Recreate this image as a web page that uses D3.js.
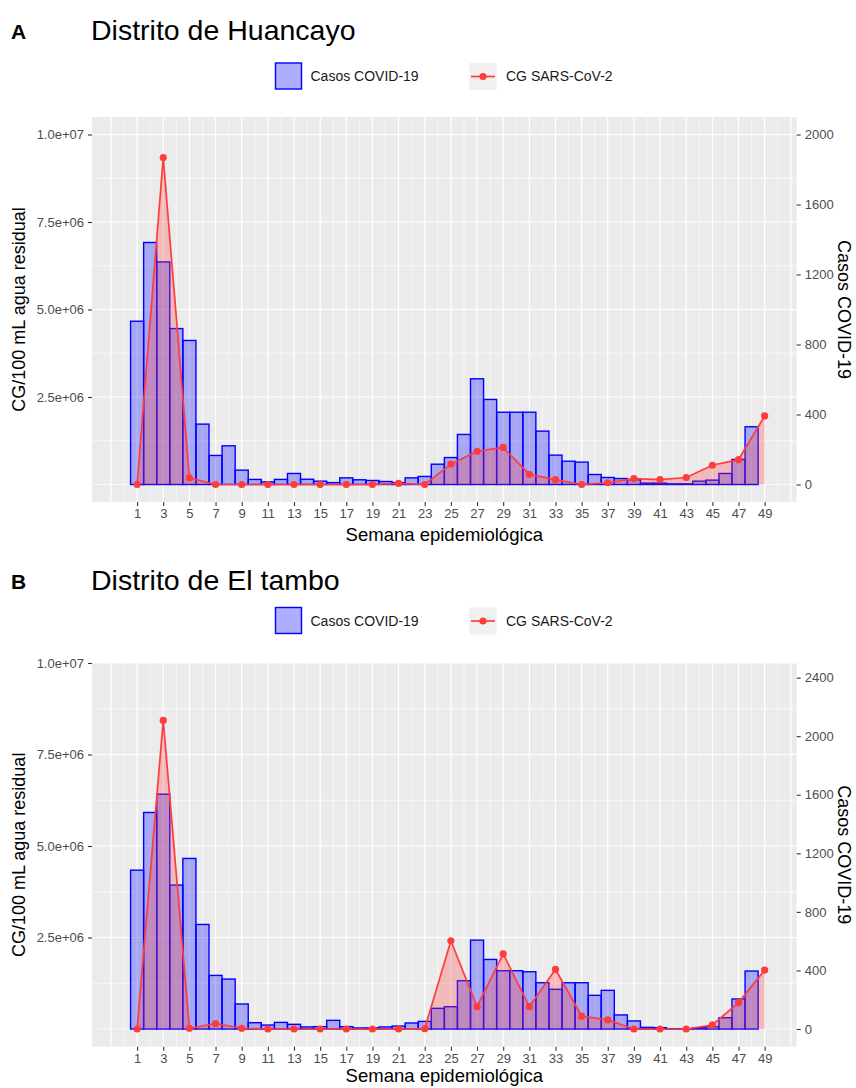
<!DOCTYPE html>
<html>
<head>
<meta charset="utf-8">
<script src="https://cdn.jsdelivr.net/npm/d3@7"></script>
<style>
  html, body { margin: 0; padding: 0; background: #ffffff; }
  svg text { font-family: "Liberation Sans", Arial, Helvetica, sans-serif; }
</style>
</head>
<body>
<svg id="chart" width="856" height="1088"></svg>
<script>
// ---------- DATA ----------
const barWeeks = d3.range(1, 49);          // weeks 1..48 (bars)
const pointWeeks = d3.range(1, 50, 2);     // weeks 1,3,...,49 (CG points)
const xTickLabels = d3.range(1, 50, 2);

// Panel A – Distrito de Huancayo
const casesA = [933,1383,1272,891,823,345,166,221,82,29,
                15,29,63,30,19,11,38,27,23,17,
                11,38,46,116,154,286,604,486,413,413,
                413,305,168,133,128,57,40,34,27,8,
                8,4,4,19,25,63,143,330];
const cgA = [0,9.34e6,0.19e6,0,0,0,0,0,0,0,
             0.03e6,0,0.58e6,0.95e6,1.06e6,0.29e6,0.14e6,0,0.05e6,0.17e6,
             0.14e6,0.2e6,0.55e6,0.71e6,1.96e6];
const leftTicksA = [2.5e6, 5e6, 7.5e6, 1e7];
const rightTicksA = [0, 400, 800, 1200, 1600, 2000];

// Panel B – Distrito de El tambo
const casesB = [1085,1479,1604,983,1165,714,366,341,171,43,
                27,45,32,14,16,59,16,7,7,14,
                20,41,52,141,152,330,607,475,398,398,
                391,316,271,316,316,230,264,96,55,11,
                9,2,2,9,16,77,205,396];
const cgB = [0,8.43e6,0.02e6,0.15e6,0.02e6,0,0,0,0,0,
             0,0.01e6,2.41e6,0.61e6,2.05e6,0.61e6,1.63e6,0.35e6,0.25e6,0,
             0,0,0.11e6,0.72e6,1.61e6];
const leftTicksB = [2.5e6, 5e6, 7.5e6, 1e7];
const rightTicksB = [0, 400, 800, 1200, 1600, 2000, 2400];

const tags = ["A", "B"];
const titles = ["Distrito de Huancayo", "Distrito de El tambo"];
const legendLabels = ["Casos COVID-19", "CG SARS-CoV-2"];
const xTitle = "Semana epidemiológica";
const yLeftTitle = "CG/100 mL agua residual";
const yRightTitle = "Casos COVID-19";

// ---------- STYLE ----------
const PANEL_BG = "#ebebeb";
const BAR_FILL = "rgba(30,30,255,0.33)";
const BAR_STROKE = "#0000ff";
const RED = "#ff3c3c";
const AREA_FILL = "rgba(255,60,60,0.28)";
const TICK_COL = "#4d4d4d";

const svg = d3.select("#chart");

function sci(d) {
  const s = d3.format(".1e")(d);
  return s.replace(/e([+-])(\d)$/, "e$10$2");
}

function drawPanel(cfg) {
  const { top, bottom, yDomain, ratio, cases, cg, leftTicks, rightTicks,
          tag, title, titleBase, legendY, xTitleBase } = cfg;
  const L = 92, R = 796.7;
  const g = svg.append("g");

  const x = d3.scaleLinear().domain([-2.45, 51.45]).range([L, R]);
  const y = d3.scaleLinear().domain(yDomain).range([bottom, top]);
  const y2 = d3.scaleLinear().domain(yDomain.map(v => v / ratio)).range([bottom, top]);

  // tag + title
  g.append("text").attr("x", 11).attr("y", titleBase - 1)
    .attr("font-size", 21).attr("font-weight", "bold").attr("fill", "#000").text(tag);
  g.append("text").attr("x", 91).attr("y", titleBase)
    .attr("font-size", 28.5).attr("fill", "#000").text(title);

  // legend
  const lg = g.append("g");
  lg.append("rect").attr("x", 275.5).attr("y", legendY).attr("width", 26).attr("height", 26)
    .attr("fill", "rgba(30,30,255,0.36)").attr("stroke", BAR_STROKE).attr("stroke-width", 1.4);
  lg.append("text").attr("x", 310.5).attr("y", legendY + 18).attr("font-size", 14)
    .attr("fill", "#1a1a1a").text(legendLabels[0]);
  lg.append("rect").attr("x", 469.5).attr("y", legendY).attr("width", 27).attr("height", 27)
    .attr("fill", "#f0f0f0");
  lg.append("line").attr("x1", 471).attr("x2", 495).attr("y1", legendY + 13.5).attr("y2", legendY + 13.5)
    .attr("stroke", RED).attr("stroke-width", 1.7);
  lg.append("circle").attr("cx", 483).attr("cy", legendY + 13.5).attr("r", 3.6).attr("fill", RED);
  lg.append("text").attr("x", 506).attr("y", legendY + 18).attr("font-size", 14)
    .attr("fill", "#1a1a1a").text(legendLabels[1]);

  // panel background
  g.append("rect").attr("x", L).attr("y", top).attr("width", R - L).attr("height", bottom - top)
    .attr("fill", PANEL_BG);

  // grid
  const grid = g.append("g");
  const yMinor = [0, 1.25e6, 3.75e6, 6.25e6, 8.75e6];
  yMinor.forEach(v => {
    grid.append("line").attr("x1", L).attr("x2", R).attr("y1", y(v)).attr("y2", y(v))
      .attr("stroke", "#fff").attr("stroke-width", 0.6);
  });
  leftTicks.forEach(v => {
    grid.append("line").attr("x1", L).attr("x2", R).attr("y1", y(v)).attr("y2", y(v))
      .attr("stroke", "#fff").attr("stroke-width", 1.2);
  });
  d3.range(0, 51, 2).forEach(v => {
    grid.append("line").attr("x1", x(v)).attr("x2", x(v)).attr("y1", top).attr("y2", bottom)
      .attr("stroke", "#fff").attr("stroke-width", 0.6);
  });
  d3.range(-1, 52, 2).forEach(v => {
    grid.append("line").attr("x1", x(v)).attr("x2", x(v)).attr("y1", top).attr("y2", bottom)
      .attr("stroke", "#fff").attr("stroke-width", 1.2);
  });

  // bars
  const bw = x(1) - x(0);
  g.append("g").selectAll("rect").data(barWeeks).join("rect")
    .attr("x", (d) => x(d) - bw / 2)
    .attr("width", bw)
    .attr("y", (d, i) => y(cases[i] * ratio))
    .attr("height", (d, i) => y(0) - y(cases[i] * ratio))
    .attr("fill", BAR_FILL)
    .attr("stroke", BAR_STROKE)
    .attr("stroke-width", 1.4);

  // area + line + points
  const pts = pointWeeks.map((w, i) => ({ w, v: cg[i] }));
  g.append("path").datum(pts)
    .attr("d", d3.area().x(d => x(d.w)).y0(y(0)).y1(d => y(d.v)))
    .attr("fill", AREA_FILL);
  g.append("path").datum(pts)
    .attr("d", d3.line().x(d => x(d.w)).y(d => y(d.v)))
    .attr("fill", "none").attr("stroke", RED).attr("stroke-width", 1.7);
  g.append("g").selectAll("circle").data(pts).join("circle")
    .attr("cx", d => x(d.w)).attr("cy", d => y(d.v)).attr("r", 3.6).attr("fill", RED);

  // axes
  const axL = g.append("g").attr("transform", `translate(${L},0)`)
    .call(d3.axisLeft(y).tickValues(leftTicks).tickFormat(sci).tickSize(4).tickPadding(4));
  const axR = g.append("g").attr("transform", `translate(${R},0)`)
    .call(d3.axisRight(y2).tickValues(rightTicks).tickFormat(d3.format("d")).tickSize(4).tickPadding(4));
  const axB = g.append("g").attr("transform", `translate(0,${bottom})`)
    .call(d3.axisBottom(x).tickValues(xTickLabels).tickFormat(d3.format("d")).tickSize(4).tickPadding(3));
  [axL, axR, axB].forEach(a => {
    a.select(".domain").remove();
    a.selectAll(".tick line").attr("stroke", "#333").attr("stroke-width", 1.1);
    a.selectAll(".tick text").attr("fill", TICK_COL).attr("font-size", 13)
      .attr("font-family", "'Liberation Sans', Arial, sans-serif");
  });

  // axis titles
  const midY = (top + bottom) / 2;
  g.append("text").attr("transform", `translate(25,${midY}) rotate(-90)`)
    .attr("text-anchor", "middle").attr("font-size", 18).attr("fill", "#000").text(yLeftTitle);
  g.append("text").attr("transform", `translate(838,${midY}) rotate(90)`)
    .attr("text-anchor", "middle").attr("font-size", 18).attr("fill", "#000").text(yRightTitle);
  g.append("text").attr("x", (L + R) / 2).attr("y", xTitleBase)
    .attr("text-anchor", "middle").attr("font-size", 18.5).attr("fill", "#000").text(xTitle);
}

drawPanel({
  top: 117, bottom: 502, yDomain: [-5e5, 1.05e7], ratio: 5000,
  cases: casesA, cg: cgA, leftTicks: leftTicksA, rightTicks: rightTicksA,
  tag: tags[0], title: titles[0], titleBase: 40, legendY: 63, xTitleBase: 541
});
drawPanel({
  top: 663, bottom: 1046.7, yDomain: [-0.4836e6, 1e7], ratio: 4000,
  cases: casesB, cg: cgB, leftTicks: leftTicksB, rightTicks: rightTicksB,
  tag: tags[1], title: titles[1], titleBase: 590, legendY: 607.5, xTitleBase: 1082
});
</script>
</body>
</html>
